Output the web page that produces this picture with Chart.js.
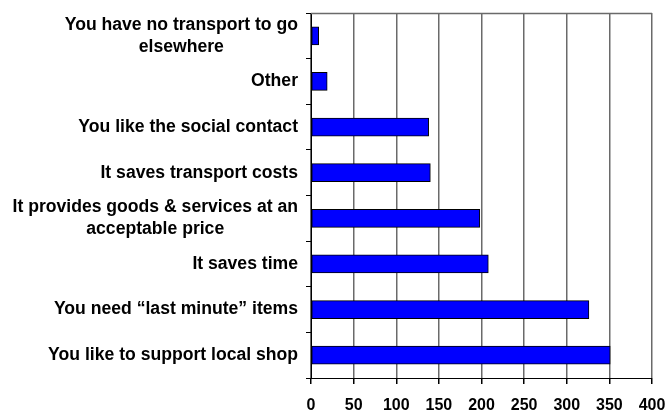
<!DOCTYPE html>
<html>
<head>
<meta charset="utf-8">
<script src="https://cdn.jsdelivr.net/npm/chart.js@4/dist/chart.umd.min.js"></script>
<style>
  html, body { margin: 0; padding: 0; background: #fff; }
  #wrap { width: 668px; height: 416px; }
</style>
</head>
<body>
<div id="wrap"><canvas id="c" width="668" height="416"></canvas></div>
<script>
// Reasons given for using the local shop (number of responses)
const reasons = [
  ['You have no transport to go', 'elsewhere'],
  ['Other'],
  ['You like the social contact'],
  ['It saves transport costs'],
  ['It provides goods & services at an', 'acceptable price'],
  ['It saves time'],
  ['You need \u201clast minute\u201d items'],
  ['You like to support local shop']
];
const responses = [9, 19, 138, 140, 198, 208, 326, 351];
const xTicks = [0, 50, 100, 150, 200, 250, 300, 350, 400];

const FONT = '"Liberation Sans", Arial, Helvetica, sans-serif';

// Category labels: each block right-aligned to the axis, lines centred within the block
const categoryLabels = {
  id: 'categoryLabels',
  afterDraw(chart) {
    const ctx = chart.ctx;
    const y = chart.scales.y;
    const right = 298;
    const lh = 22;
    ctx.save();
    ctx.font = 'bold 17.6px ' + FONT;
    ctx.fillStyle = '#000';
    ctx.textAlign = 'center';
    ctx.textBaseline = 'middle';
    reasons.forEach((lines, i) => {
      const cy = y.getPixelForValue(i);
      const w = Math.max(...lines.map(l => ctx.measureText(l).width));
      const cx = right - w / 2;
      const y0 = cy - (lines.length - 1) * lh / 2;
      lines.forEach((l, k) => ctx.fillText(l, cx, y0 + k * lh));
    });
    ctx.restore();
  }
};

// Gray frame line along the top of the plot area
const plotFrame = {
  id: 'plotFrame',
  beforeDatasetsDraw(chart) {
    const { ctx, chartArea: a } = chart;
    ctx.save();
    ctx.strokeStyle = '#6a6a6a';
    ctx.lineWidth = 1.5;
    ctx.beginPath();
    ctx.moveTo(a.left, a.top + 0.5);
    ctx.lineTo(a.right, a.top + 0.5);
    ctx.stroke();
    ctx.restore();
  }
};

new Chart(document.getElementById('c'), {
  type: 'bar',
  data: {
    labels: reasons.map(r => r.join(' ')),
    datasets: [{
      data: responses,
      backgroundColor: '#0000ff',
      borderColor: '#000000',
      borderWidth: 1,
      borderSkipped: false,
      barThickness: 18
    }]
  },
  options: {
    indexAxis: 'y',
    responsive: false,
    animation: false,
    devicePixelRatio: 1,
    layout: { padding: { top: 13, right: 16, left: 0, bottom: 0 } },
    plugins: { legend: { display: false }, tooltip: { enabled: false } },
    scales: {
      x: {
        min: 0,
        max: 400,
        afterBuildTicks: s => { s.ticks = xTicks.map(v => ({ value: v })); },
        afterFit: s => { s.height = 38; s.paddingLeft = 0; s.paddingRight = 0; },
        grid: {
          color: '#6a6a6a',
          lineWidth: 1.5,
          tickColor: '#000',
          tickLength: 6
        },
        border: { color: '#000', width: 1 },
        ticks: {
          color: '#000',
          padding: 12,
          font: { family: FONT, size: 16, weight: 'bold' }
        }
      },
      y: {
        afterFit: s => { s.width = 311; s.paddingTop = 0; s.paddingBottom = 0; },
        grid: {
          drawOnChartArea: false,
          tickColor: '#000',
          tickLength: 5,
          offset: true
        },
        border: { color: '#000', width: 1 },
        ticks: { display: false }
      }
    }
  },
  plugins: [categoryLabels, plotFrame]
});
</script>
</body>
</html>
